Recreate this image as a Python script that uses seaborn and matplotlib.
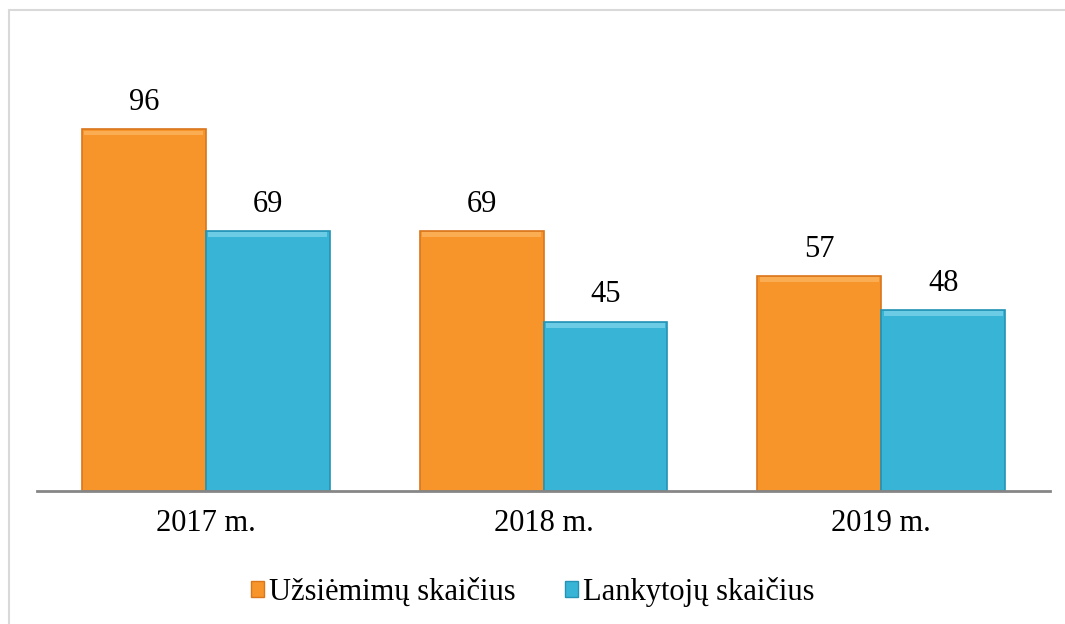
import matplotlib
matplotlib.use("Agg")
import matplotlib.pyplot as plt
import seaborn as sns
import pandas as pd
from matplotlib.patches import Rectangle
from matplotlib.lines import Line2D

years = ["2017 m.", "2018 m.", "2019 m."]
series_names = ["Užsiėmimų skaičius", "Lankytojų skaičius"]
uzsiemimu = [96, 69, 57]
lankytoju = [69, 45, 48]

colors = ["#F7942A", "#38B4D6"]
edge_colors = ["#D9761C", "#2493B5"]
light_colors = ["#FBB45E", "#7AD3EA"]

df = pd.DataFrame({
    "year": years * 2,
    "series": [series_names[0]] * 3 + [series_names[1]] * 3,
    "value": uzsiemimu + lankytoju,
})

sns.set_theme(style="white")
plt.rcParams["font.family"] = ["Liberation Serif", "DejaVu Serif"]
plt.rcParams["text.color"] = "black"

W, H = 1065, 624
fig = plt.figure(figsize=(W / 100, H / 100), dpi=100)
ax_left, ax_right = 37 / W, 1050 / W
ax_bottom, ax_top = (H - 491) / H, (H - 30) / H
ax = fig.add_axes([ax_left, ax_bottom, ax_right - ax_left, ax_top - ax_bottom])

sns.barplot(data=df, x="year", y="value", hue="series", order=years,
            hue_order=series_names, palette=colors, width=0.734, gap=0,
            ax=ax, legend=False, saturation=1)

ax.set_ylim(0, (491 - 30) / 3.766)
ax.set_xlim(-0.5, 2.5)

for i, cont in enumerate(ax.containers):
    for p in cont.patches:
        p.set_edgecolor(edge_colors[i])
        p.set_linewidth(1.2)
        x0, y0 = p.get_x(), p.get_y()
        w, h = p.get_width(), p.get_height()
        # bevel highlight on top
        ax.add_patch(Rectangle((x0 + w * 0.02, y0 + h - 1.6), w * 0.96, 1.3,
                               facecolor=light_colors[i], edgecolor="none",
                               alpha=0.8, zorder=p.get_zorder() + 0.1))
    ax.bar_label(cont, labels=[f"{v:g}" for v in cont.datavalues],
                 padding=9, fontsize=22, color="black")

for s in ["top", "right", "left"]:
    ax.spines[s].set_visible(False)
ax.spines["bottom"].set_color("#868686")
ax.spines["bottom"].set_linewidth(2)
ax.set_yticks([])
ax.set_xlabel("")
ax.set_ylabel("")
ax.tick_params(axis="x", length=0, pad=13, labelsize=22, labelcolor="black")

handles = [Rectangle((0, 0), 1, 1, facecolor=colors[i], edgecolor=edge_colors[i], lw=1)
           for i in range(2)]
fig.legend(handles, series_names, loc="center", bbox_to_anchor=(0.5, 1 - 592 / H),
           ncol=2, frameon=False, fontsize=22, handlelength=0.45, handleheight=0.45,
           handletextpad=0.15, columnspacing=1.6, labelcolor="black")

# light chart border (left and top visible)
fig.add_artist(Line2D([8.5 / W, 8.5 / W], [0, 1 - 10 / H], transform=fig.transFigure,
                      color="#D9D9D9", lw=1.5))
fig.add_artist(Line2D([8.5 / W, 1], [1 - 10 / H, 1 - 10 / H], transform=fig.transFigure,
                      color="#D9D9D9", lw=1.5))

fig.savefig("out.png", dpi=100)
